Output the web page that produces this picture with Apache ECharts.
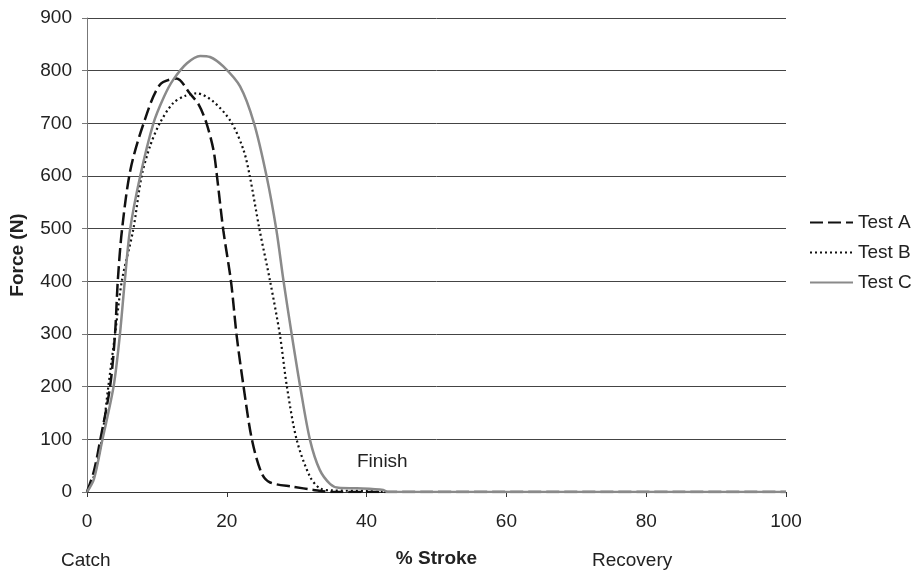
<!DOCTYPE html>
<html>
<head>
<meta charset="utf-8">
<script src="https://cdn.jsdelivr.net/npm/echarts@6/dist/echarts.min.js"></script>
<style>
  html, body { margin: 0; padding: 0; background: #fff; }
  #chart { width: 914px; height: 571px; }
</style>
</head>
<body>
<div id="chart"></div>
<script>
// % stroke (x) and force in N (y)
var xA = [0, 1.0, 1.9, 3.3, 4.0, 4.4, 5.0, 6.2, 8.1, 10.4, 12.8, 14.7, 16.0, 17.1, 18.1, 18.6, 19.5, 20.6, 21.4, 22.4, 23.6, 25.0, 26.2, 29.5, 32.4, 35, 40, 100];
var yA = [0, 40, 99, 200, 298, 400, 497, 611, 700, 773, 785, 757, 735, 700, 649, 599, 497, 400, 298, 200, 99, 35, 18, 10, 4, 0, 0, 0];

var xB = [0, 1.0, 2.1, 3.05, 4.0, 5.0, 6.6, 7.8, 9.0, 10.4, 12.3, 14.0, 15.7, 18.1, 20.6, 22.4, 23.3, 24.7, 26.2, 27.6, 28.6, 30.0, 31.9, 33.3, 35, 40, 42, 100];
var yB = [0, 30, 99, 200, 298, 402, 497, 599, 656, 700, 738, 752, 757, 741, 703, 649, 599, 497, 400, 298, 200, 99, 29, 7, 3, 2, 0, 0];

var xC = [0, 1.0, 2.2, 3.8, 4.7, 5.4, 6.15, 7.6, 9.5, 11.0, 12.3, 14.3, 16.2, 17.6, 19.5, 21.9, 23.9, 25.7, 27.1, 28.1, 29.3, 30.5, 31.9, 33.3, 34.8, 36, 38.6, 42.4, 43, 100];
var yC = [0, 25, 99, 200, 298, 400, 497, 599, 700, 750, 782, 814, 828, 826, 808, 770, 700, 599, 497, 402, 298, 200, 99, 42, 15, 8, 7, 4, 0, 0];

var xTicks = [0, 20, 40, 60, 80, 100];
var yTicks = [0, 100, 200, 300, 400, 500, 600, 700, 800, 900];

function pairs(xs, ys) {
    var out = [];
    for (var i = 0; i < xs.length; i++) {
        out.push([xs[i], ys[i]]);
    }
    return out;
}

var font = 'Liberation Sans, Arial, sans-serif';
var fs = 19;
var chart = echarts.init(document.getElementById('chart'));

var option = {
    animation: false,
    grid: { left: 87, right: 128, top: 18, bottom: 79, containLabel: false, outerBoundsMode: 'none' },
    legend: {
        orient: 'vertical',
        left: 809,
        top: 213,
        padding: 0,
        itemWidth: 43,
        itemHeight: 14,
        itemGap: 11,
        itemStyle: { opacity: 0 },
        textStyle: { fontFamily: font, fontSize: fs, color: '#222' },
        data: ['Test A', 'Test B', 'Test C']
    },
    xAxis: {
        type: 'value',
        min: xTicks[0],
        max: xTicks[xTicks.length - 1],
        interval: 20,
        name: '% Stroke',
        nameLocation: 'middle',
        nameGap: 57,
        nameTextStyle: { fontFamily: font, fontSize: fs, fontWeight: 'bold', color: '#222' },
        axisLine: { onZero: false, lineStyle: { color: '#333', width: 1 } },
        axisTick: { show: true, length: 5, lineStyle: { color: '#333' } },
        axisLabel: { margin: 20, fontFamily: font, fontSize: fs, color: '#222' },
        splitLine: { show: false }
    },
    yAxis: {
        type: 'value',
        min: yTicks[0],
        max: yTicks[yTicks.length - 1],
        interval: 100,
        name: 'Force (N)',
        nameLocation: 'middle',
        nameGap: 60,
        nameTextStyle: { fontFamily: font, fontSize: fs, fontWeight: 'bold', color: '#222' },
        axisLine: { show: true, lineStyle: { color: '#777', width: 1 } },
        axisTick: { show: true, length: 5, lineStyle: { color: '#777' } },
        axisLabel: { margin: 15, fontFamily: font, fontSize: fs, color: '#222' },
        splitLine: { show: true, lineStyle: { color: '#444', width: 1 } }
    },
    graphic: [
        { type: 'text', left: 61, top: 551, style: { text: 'Catch', font: fs + 'px ' + font, fill: '#222' } },
        { type: 'text', left: 592, top: 551, style: { text: 'Recovery', font: fs + 'px ' + font, fill: '#222' } },
        { type: 'text', left: 357, top: 452, style: { text: 'Finish', font: fs + 'px ' + font, fill: '#222' } }
    ],
    series: [
        {
            name: 'Test A', type: 'line', showSymbol: false, symbol: 'none', smooth: 0.3, z: 3,
            lineStyle: { color: '#111', width: 2.5, type: [13, 5] },
            itemStyle: { color: '#111' },
            data: pairs(xA, yA)
        },
        {
            name: 'Test B', type: 'line', showSymbol: false, symbol: 'none', smooth: 0.3, z: 4,
            lineStyle: { color: '#111', width: 2.2, type: [2, 3] },
            itemStyle: { color: '#111' },
            data: pairs(xB, yB)
        },
        {
            name: 'Test C', type: 'line', showSymbol: false, symbol: 'none', smooth: 0.3, z: 5,
            lineStyle: { color: '#8a8a8a', width: 2.5 },
            itemStyle: { color: '#8a8a8a' },
            data: pairs(xC, yC)
        }
    ]
};

chart.setOption(option);
</script>
</body>
</html>
